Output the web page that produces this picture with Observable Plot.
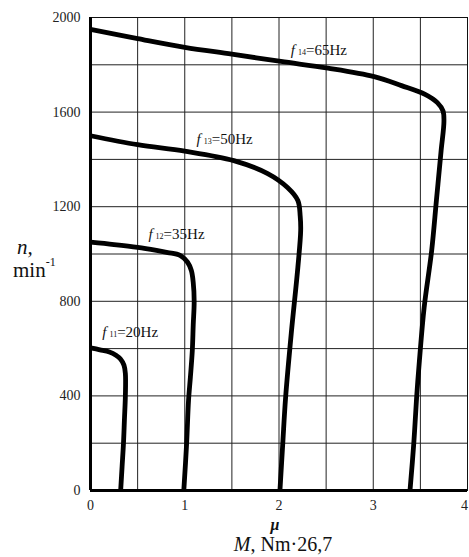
<!DOCTYPE html>
<html>
<head>
<meta charset="utf-8">
<script src="https://cdn.jsdelivr.net/npm/d3@7"></script>
<script src="https://cdn.jsdelivr.net/npm/@observablehq/plot@0.6"></script>
<style>
  html, body { margin: 0; padding: 0; background: #fff; }
  svg { display: block; }
</style>
</head>
<body>
<div id="chart"></div>
<script>
// ---- data ----
const series = ["f11", "f12", "f13", "f14"];

const mu11 = [0, 0.1, 0.2, 0.27, 0.32, 0.355, 0.37, 0.37, 0.36, 0.35, 0.335, 0.32];
const n11  = [603, 595, 586, 572, 555, 530, 495, 400, 300, 200, 100, 0];

const mu12 = [0, 0.25, 0.5, 0.7, 0.82, 0.95, 1.03, 1.07, 1.09, 1.1, 1.09, 1.08, 1.06, 1.04, 1.02, 0.99];
const n12  = [1050, 1040, 1028, 1015, 1006, 994, 965, 930, 880, 800, 700, 590, 480, 380, 200, 0];

const mu13 = [0, 0.5, 1.0, 1.52, 1.88, 2.09, 2.2, 2.225, 2.23, 2.2, 2.13, 2.07, 2.04, 2.01];
const n13  = [1500, 1462, 1435, 1395, 1340, 1281, 1226, 1160, 1099, 943, 664, 393, 199, 0];

const mu14 = [0, 0.5, 1.0, 1.5, 2.02, 2.52, 3.01, 3.3, 3.55, 3.68, 3.74, 3.75, 3.72, 3.67, 3.62, 3.54, 3.49, 3.46, 3.43, 3.39];
const n14  = [1950, 1911, 1874, 1845, 1814, 1786, 1750, 1712, 1675, 1640, 1605, 1560, 1437, 1226, 1015, 774, 550, 393, 199, 0];

const xTicks = [0, 1, 2, 3, 4];
const yTicks = [0, 400, 800, 1200, 1600, 2000];
const xGrid = [0.5, 1, 1.5, 2, 2.5, 3, 3.5];
const yGrid = [200, 400, 600, 800, 1000, 1200, 1400, 1600, 1800];

// curve labels: f_sub=rest, anchored at (mu, n) baseline-left
const labelMu   = [0.13, 0.62, 1.13, 2.13];
const labelN    = [647, 1061, 1463, 1839];
const labelSub  = ["11", "12", "13", "14"];
const labelRest = ["=20Hz", "=35Hz", "=50Hz", "=65Hz"];

// ---- build table ----
const cols = [[mu11, n11], [mu12, n12], [mu13, n13], [mu14, n14]];
const data = [];
cols.forEach(([m, n], k) => m.forEach((v, i) => data.push({f: series[k], mu: v, n: n[i]})));

const serif = "'Liberation Serif', 'Times New Roman', serif";

const plot = Plot.plot({
  width: 469,
  height: 557,
  marginLeft: 90,
  marginRight: 2,
  marginTop: 17,
  marginBottom: 67,
  x: {domain: [0, 4]},
  y: {domain: [0, 2000]},
  style: {fontFamily: serif, fontSize: "14px", color: "#222", background: "#fff"},
  marks: [
    Plot.gridX(xGrid, {stroke: "#222", strokeOpacity: 1, strokeWidth: 1}),
    Plot.gridY(yGrid, {stroke: "#222", strokeOpacity: 1, strokeWidth: 1}),
    Plot.frame({stroke: "#111", strokeWidth: 1}),
    Plot.ruleX([0], {stroke: "#000", strokeWidth: 3}),
    Plot.ruleY([0], {stroke: "#000", strokeWidth: 3}),
    Plot.axisX(xTicks.slice(0, 4), {tickSize: 0, tickPadding: 10, label: null, fontSize: 14, tickFormat: d3.format("d")}),
    Plot.axisX(xTicks.slice(4), {tickSize: 0, tickPadding: 10, label: null, fontSize: 14, tickFormat: d3.format("d"), dx: -3}),
    Plot.axisY(yTicks, {tickSize: 0, tickPadding: 10, label: null, fontSize: 14, tickFormat: d3.format("d")}),
    Plot.line(data, {x: "mu", y: "n", z: "f", curve: "catmull-rom", stroke: "#000", strokeWidth: 4.8, strokeLinejoin: "round", strokeLinecap: "butt"})
  ]
});

document.getElementById("chart").appendChild(plot);

const svg = d3.select(plot);
const sx = plot.scale("x"), sy = plot.scale("y");

// curve labels
labelMu.forEach((m, i) => {
  const t = svg.append("text")
    .attr("x", sx.apply(m))
    .attr("y", sy.apply(labelN[i]))
    .attr("text-anchor", "start")
    .attr("font-family", serif)
    .attr("font-size", 15)
    .attr("fill", "#111");
  t.append("tspan").attr("font-style", "italic").text("f");
  t.append("tspan").attr("font-size", 8).attr("dx", 3).text(labelSub[i]);
  t.append("tspan").text(labelRest[i]);
});

// y axis title
svg.append("text").attr("x", 17).attr("y", 254).attr("text-anchor", "start")
  .attr("font-family", serif).attr("font-size", 21).attr("font-style", "italic").attr("fill", "#111")
  .text("n,");
const ym = svg.append("text").attr("x", 13).attr("y", 277).attr("text-anchor", "start")
  .attr("font-family", serif).attr("font-size", 21).attr("fill", "#111");
ym.append("tspan").text("min");
ym.append("tspan").attr("font-size", 12).attr("dy", -11).text("-1");

// x axis title
svg.append("text").attr("x", 275).attr("y", 530).attr("text-anchor", "middle")
  .attr("font-family", serif).attr("font-size", 16).attr("font-style", "italic").attr("font-weight", "bold").attr("fill", "#111")
  .text("μ");
const xm = svg.append("text").attr("x", 283).attr("y", 551).attr("text-anchor", "middle")
  .attr("font-family", serif).attr("font-size", 20).attr("fill", "#111");
xm.append("tspan").attr("font-style", "italic").text("M");
xm.append("tspan").text(", Nm·26,7");
</script>
</body>
</html>
